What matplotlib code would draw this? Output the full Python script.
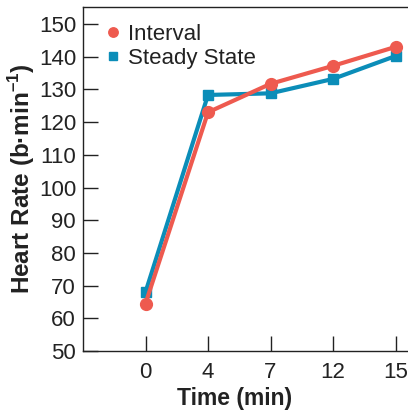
import matplotlib
matplotlib.use("Agg")
import matplotlib.pyplot as plt

times = ["0", "4", "7", "12", "15"]
interval = [64.5, 123, 131.7, 137.2, 143]
steady = [68, 128.3, 128.8, 133.2, 140.2]
yticks = [50, 60, 70, 80, 90, 100, 110, 120, 130, 140, 150]

plt.rcParams['font.family'] = ['Liberation Sans', 'DejaVu Sans']
plt.rcParams['mathtext.fontset'] = 'custom'
plt.rcParams['mathtext.rm'] = 'Liberation Sans'
plt.rcParams['mathtext.bf'] = 'Liberation Sans:bold'

fig = plt.figure(figsize=(4.08, 4.11), dpi=100)
ax = fig.add_axes([83/408, 1-351/411, 1-83/408, (351-7)/411])

x = list(range(len(times)))
red = "#EE5A4F"
blue = "#0B8DB8"
ax.plot(x, steady, color=blue, lw=3, marker="s", ms=7.5, label="Steady State", zorder=3)
ax.plot(x, interval, color=red, lw=3, marker="o", ms=8.5, label="Interval", zorder=4)

ax.set_xlim(-1, 4.2)
ax.set_ylim(50, 155.2)
ax.set_xticks(x)
ax.set_xticklabels(times)
ax.set_yticks(yticks)
ax.tick_params(direction="in", length=11, width=1, labelsize=16, color="#222222", labelcolor="#222222")
ax.tick_params(axis="x", pad=8)
ax.tick_params(axis="y", pad=5)
for s in ["left", "bottom", "top"]:
    ax.spines[s].set_linewidth(1)
    ax.spines[s].set_color("#222222")
ax.spines["right"].set_visible(False)

ax.set_xlabel("Time (min)", fontsize=16.5, fontweight="bold", color="#222222", labelpad=3)
ax.xaxis.set_label_coords(0.465, -0.105)
ax.set_ylabel("Heart Rate (b·min$^{\\mathbf{\u2013}\\mathbf{1}}$)", fontsize=17.5, fontweight="bold",
              color="#222222", labelpad=1)

h, l = ax.get_legend_handles_labels()
leg = ax.legend([h[1], h[0]], [l[1], l[0]], loc="upper left", frameon=False, fontsize=16,
                handlelength=0.6, handletextpad=0.4, borderaxespad=0.2, labelspacing=0.15,
                markerscale=0.8, bbox_to_anchor=(0.03, 0.99))
for hh in leg.legend_handles:
    hh.set_linestyle("none")
for t in leg.get_texts():
    t.set_color("#222222")

fig.savefig("out.png", dpi=100)
